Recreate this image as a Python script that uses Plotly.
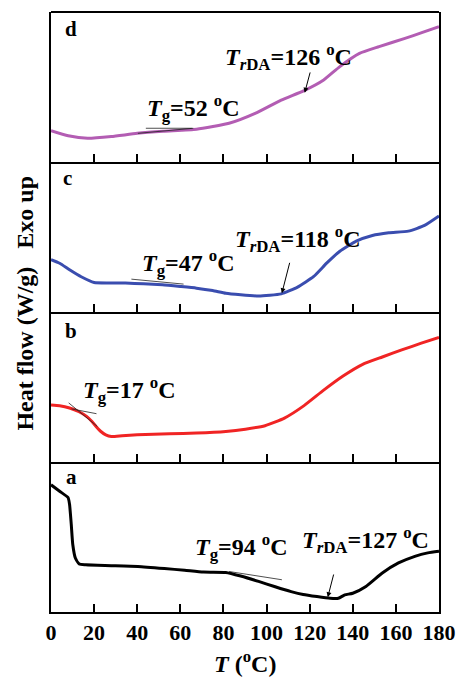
import plotly.graph_objects as go
from plotly.subplots import make_subplots

# ---- data (temperature in °C, heat flow in normalised panel units) ----
T_d = [0, 8, 17, 28, 40, 52, 67.5, 82.6, 94.7, 106.8, 117.4, 126.5, 134, 143.1, 152.2, 164.2, 172, 180]
H_d = [0.209, 0.175, 0.158, 0.170, 0.191, 0.205, 0.218, 0.258, 0.324, 0.413, 0.476, 0.547, 0.636, 0.724, 0.769, 0.824, 0.862, 0.902]

T_c = [0, 4, 8.6, 14, 20, 27, 34.5, 43, 51.7, 60, 67.5, 75, 81.1, 88, 96.3, 106.8, 114.4, 121.9, 128, 134, 141.6, 149.1, 156.7, 165.8, 173.3, 180]
H_c = [0.349, 0.325, 0.282, 0.235, 0.197, 0.194, 0.193, 0.188, 0.181, 0.170, 0.159, 0.143, 0.125, 0.115, 0.107, 0.121, 0.166, 0.237, 0.327, 0.405, 0.472, 0.510, 0.528, 0.539, 0.577, 0.640]

T_b = [0, 4, 8.6, 13, 16.5, 19, 20.9, 23, 25.4, 28, 33, 40, 55, 67.5, 81.1, 90.2, 99.3, 108.3, 117.4, 126.5, 135.5, 144.6, 153.7, 162.7, 171.8, 180]
H_b = [0.380, 0.375, 0.360, 0.335, 0.304, 0.270, 0.237, 0.205, 0.181, 0.170, 0.175, 0.181, 0.188, 0.193, 0.204, 0.219, 0.242, 0.293, 0.376, 0.479, 0.573, 0.651, 0.700, 0.747, 0.792, 0.830]

T_a = [0, 4, 7.9, 8.6, 9.4, 10.1, 11.3, 13.1, 16.2, 25, 40.3, 52.6, 62, 70.7, 81.1, 88, 96.3, 104, 111.4, 117, 123.4, 129.5, 133.3, 136.3, 140, 146.1, 153.7, 161.2, 168.8, 174.8, 180]
H_a = [0.848, 0.805, 0.763, 0.718, 0.584, 0.450, 0.360, 0.320, 0.315, 0.310, 0.304, 0.290, 0.278, 0.266, 0.264, 0.240, 0.204, 0.168, 0.136, 0.117, 0.103, 0.092, 0.092, 0.114, 0.125, 0.170, 0.260, 0.327, 0.371, 0.394, 0.405]

# tangent construction lines [x0, x1], [y0, y1]
tan_d1_x, tan_d1_y = [40.3, 66.0], [0.191, 0.225]
tan_d2_x, tan_d2_y = [44.0, 65.3], [0.225, 0.225]
tan_c_x, tan_c_y = [37.3, 61.5], [0.219, 0.186]
tan_b1_x, tan_b1_y = [8.2, 21.5], [0.394, 0.237]
tan_b2_x, tan_b2_y = [9.5, 21.1], [0.354, 0.322]
tan_a_x, tan_a_y = [82.6, 107.1], [0.270, 0.215]

panel_labels = ["d", "c", "b", "a"]

FONT = "Liberation Serif"
colors = ["#B35DB3", "#3A4DAF", "#F02424", "#000000"]

fig = make_subplots(rows=4, cols=1, shared_xaxes=True, vertical_spacing=0)

curves = [(T_d, H_d), (T_c, H_c), (T_b, H_b), (T_a, H_a)]
for i, (tx, hy) in enumerate(curves):
    fig.add_trace(go.Scatter(x=tx, y=hy, mode="lines",
                             line=dict(color=colors[i], width=3, shape="spline", smoothing=0.5),
                             showlegend=False, hoverinfo="skip"), row=i + 1, col=1)

tangents = [(tan_d1_x, tan_d1_y, 1), (tan_d2_x, tan_d2_y, 1), (tan_c_x, tan_c_y, 2),
            (tan_b1_x, tan_b1_y, 3), (tan_b2_x, tan_b2_y, 3), (tan_a_x, tan_a_y, 4)]
for tx, ty, r in tangents:
    fig.add_trace(go.Scatter(x=tx, y=ty, mode="lines", line=dict(color="#222222", width=0.8),
                             showlegend=False, hoverinfo="skip"), row=r, col=1)

for r in range(1, 5):
    fig.update_xaxes(range=[0, 180], showline=True, linecolor="black", linewidth=2, mirror=False,
                     tickmode="linear", tick0=0, dtick=20, ticks="inside",
                     ticklen=8, tickwidth=2, tickcolor="black",
                     showgrid=False, zeroline=False, row=r, col=1)
    fig.update_yaxes(range=[0, 1], showline=True, linecolor="black", linewidth=2, mirror=True,
                     showticklabels=False, ticks="", showgrid=False, zeroline=False, row=r, col=1)

fig.update_xaxes(showticklabels=True, tickfont=dict(family=FONT, size=22, color="black", weight="bold"), row=4, col=1)

# top frame edge of the uppermost panel
fig.add_shape(type="line", xref="paper", yref="paper", x0=0, x1=1, y0=1, y1=1,
              line=dict(color="black", width=2))

ann = []
axn = ["", "2", "3", "4"]
label_pos = [(5.4, 0.89), (4.5, 0.896), (5.4, 0.876), (5.8, 0.903)]
for i, lab in enumerate(panel_labels):
    ann.append(dict(x=label_pos[i][0], y=label_pos[i][1], xref="x" + axn[i], yref="y" + axn[i], text=lab,
                    showarrow=False, xanchor="left", yanchor="middle",
                    font=dict(family=FONT, size=21, color="black", weight="bold")))

afont = dict(family=FONT, size=24, color="black", weight="bold")
texts = [
    (43.5, 0.360, 0, "<i>T</i><sub>g</sub>=52 <sup>o</sup>C"),
    (79.8, 0.700, 0, "<i>T</i><sub><i>r</i>DA</sub>=126 <sup>o</sup>C"),
    (41.2, 0.330, 1, "<i>T</i><sub>g</sub>=47 <sup>o</sup>C"),
    (84.3, 0.486, 1, "<i>T</i><sub><i>r</i>DA</sub>=118 <sup>o</sup>C"),
    (14.0, 0.478, 2, "<i>T</i><sub>g</sub>=17 <sup>o</sup>C"),
    (65.7, 0.431, 3, "<i>T</i><sub>g</sub>=94 <sup>o</sup>C"),
    (115.5, 0.480, 3, "<i>T</i><sub><i>r</i>DA</sub>=127 <sup>o</sup>C"),
]
for x, y, p, t in texts:
    ann.append(dict(x=x, y=y, xref="x" + axn[p], yref="y" + axn[p], text=t, showarrow=False,
                    xanchor="left", yanchor="middle", font=afont))

arrows = [(120.4, 0.607, 117.7, 0.462, 0), (110.9, 0.338, 107.1, 0.125, 1), (131.3, 0.260, 128.4, 0.099, 3)]
for x0, y0, x1, y1, p in arrows:
    ann.append(dict(x=x1, y=y1, ax=x0, ay=y0, xref="x" + axn[p], yref="y" + axn[p],
                    axref="x" + axn[p], ayref="y" + axn[p], text="", showarrow=True,
                    arrowhead=2, arrowsize=1, arrowwidth=1, arrowcolor="black"))

ann.append(dict(x=0.501, y=-0.083, xref="paper", yref="paper", text="<i>T</i> (<sup>o</sup>C)",
                showarrow=False, xanchor="center", yanchor="middle",
                font=dict(family=FONT, size=24, color="black", weight="bold")))
ann.append(dict(x=-0.068, y=0.515, xref="paper", yref="paper", textangle=-90,
                text="Heat flow (W/g)\u00a0\u00a0\u00a0Exo up", showarrow=False,
                xanchor="center", yanchor="middle",
                font=dict(family=FONT, size=24, color="black", weight="bold")))

fig.update_layout(width=468, height=677, margin=dict(l=51, r=20, t=12, b=65),
                  plot_bgcolor="white", paper_bgcolor="white", annotations=ann)

fig.write_html("out.html")
